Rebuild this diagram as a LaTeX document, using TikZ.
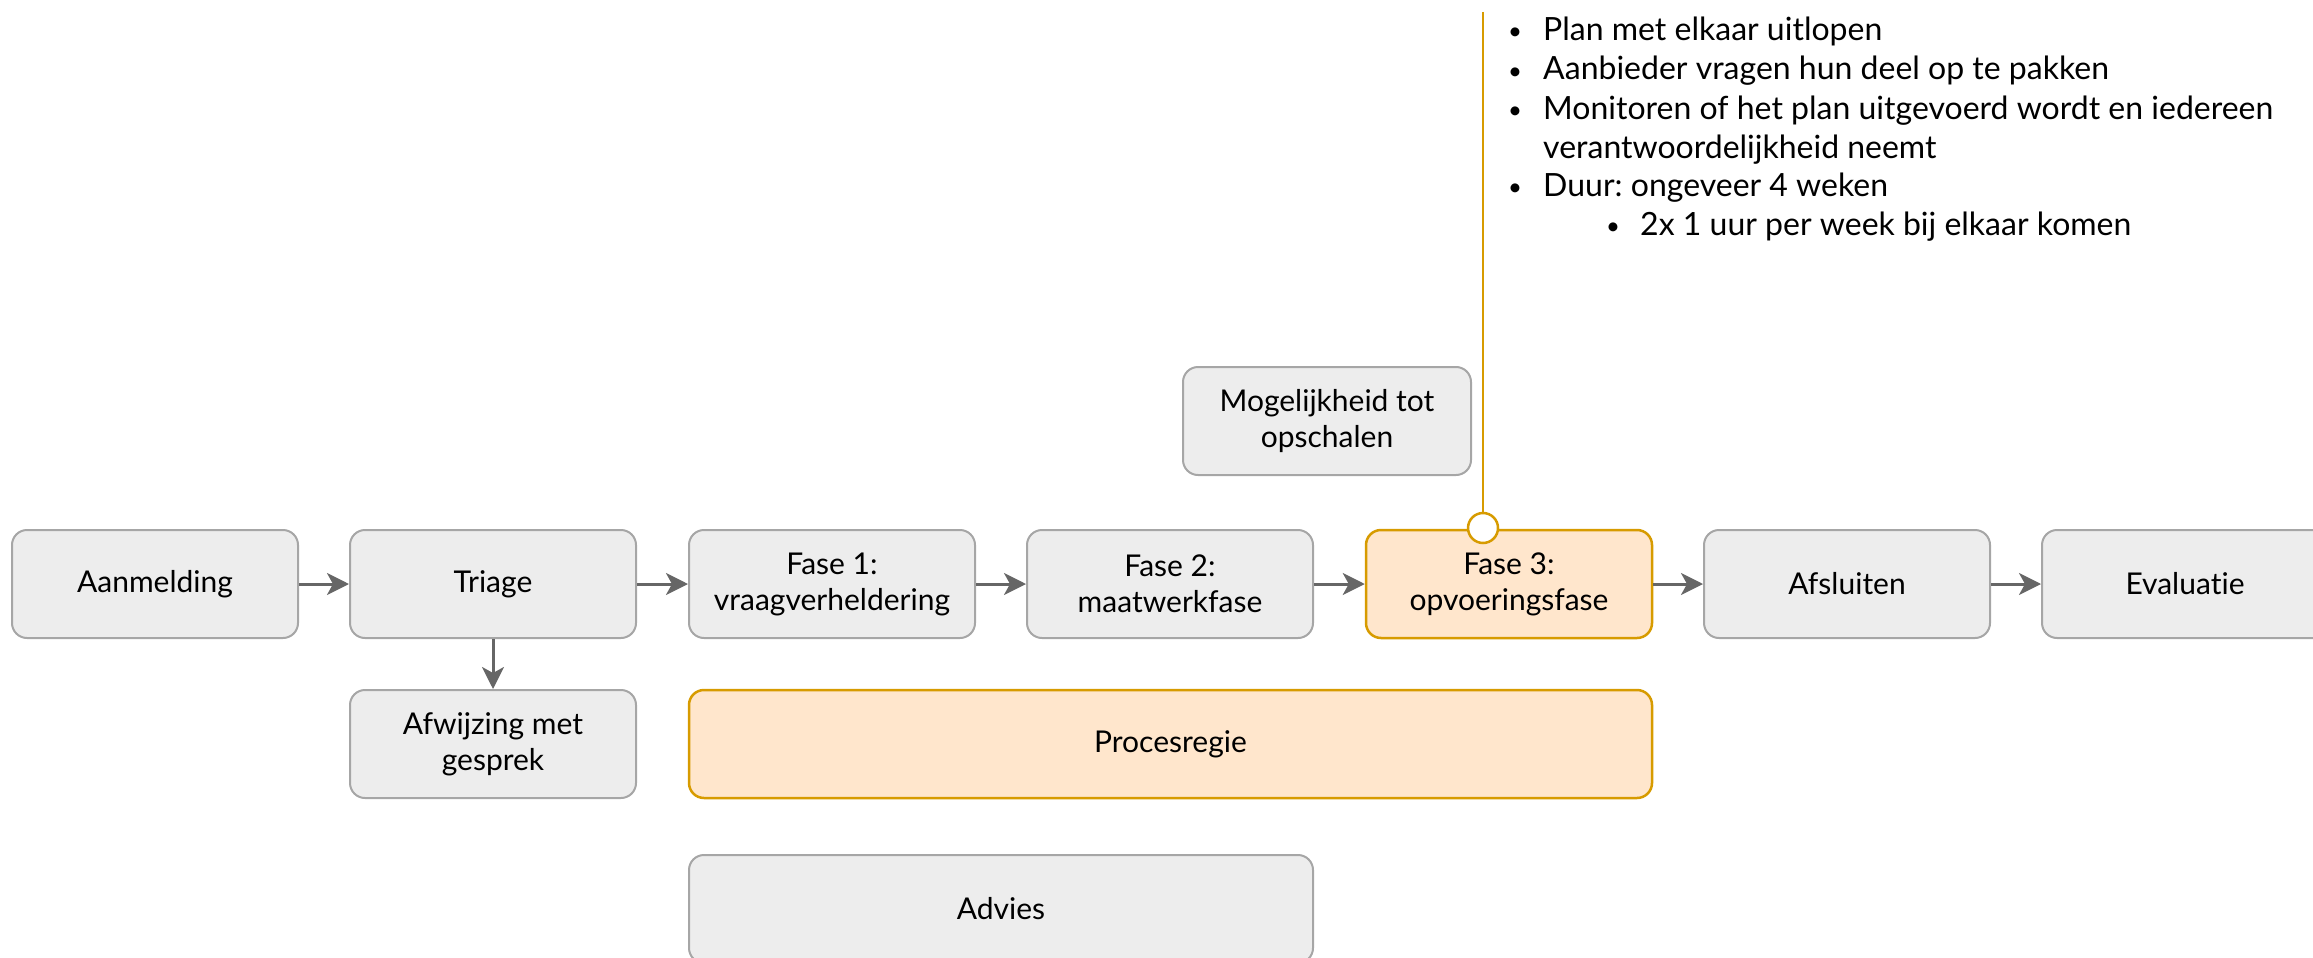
\documentclass[tikz,border=0pt]{standalone}
\usepackage{fontspec}
\setmainfont{Lato}[Ligatures={NoCommon,NoContextual}]
\usetikzlibrary{arrows.meta}
\definecolor{boxfill}{HTML}{EDEDED}
\definecolor{boxline}{HTML}{A6A6A6}
\definecolor{orfill}{HTML}{FFE6CC}
\definecolor{orline}{HTML}{D79B00}
\definecolor{arr}{HTML}{666666}
\newcommand{\mybul}[1]{\makebox[#1][l]{\raisebox{1pt}{\fontsize{24}{24}\selectfont •}}}
\tikzset{
  box/.style={draw=boxline, fill=boxfill, line width=2pt, rounded corners=15pt,
    minimum width=286pt, minimum height=108pt, inner sep=0pt, align=center,
    font=\fontsize{30}{36}\selectfont, text=black},
  obox/.style={box, draw=orline, fill=orfill, line width=2.5pt},
  flow/.style={draw=arr, line width=3pt, -{Stealth[length=22pt,width=22pt,inset=6pt]}},
  bul/.style={anchor=base west, inner sep=0pt, font=\fontsize{32}{38}\selectfont, text=black},
}
\begin{document}
\frenchspacing
\begin{tikzpicture}[x=1pt,y=-1pt]
\useasboundingbox (0,0) rectangle (2313,958);
\node[box] (aan) at (155,584) {\raisebox{-2pt}{Aanmelding}};
\node[box] (tri) at (493,584) {\raisebox{-2pt}{Triage}};
\node[box] (f1) at (832,584) {Fase 1:\\vraagverheldering};
\node[box] (f2) at (1170,584) {Fase 2:\\maatwerkfase};
\node[obox] (f3) at (1509,584) {Fase 3:\\opvoeringsfase};
\node[box] (afs) at (1847,584) {Afsluiten};
\node[box] (eva) at (2185,584) {Evaluatie};
\node[box] (afw) at (493,744) {Afwijzing met\\gesprek};
\node[obox, minimum width=963pt] (proc) at (1170.5,744) {Procesregie};
\node[box, minimum width=624pt] (adv) at (1001,909) {Advies};
\node[box, minimum width=288pt] (mog) at (1327,421) {Mogelijkheid tot\\opschalen};

\draw[flow] (aan) -- (tri);
\draw[flow] (tri) -- (f1);
\draw[flow] (f1) -- (f2);
\draw[flow] (f2) -- (f3);
\draw[flow] (f3) -- (afs);
\draw[flow] (afs) -- (eva);
\draw[flow] (tri) -- (afw);

\coordinate (top) at (1483,12);
\node[circle, draw=orline, fill=white, line width=2.5pt, minimum size=30pt, inner sep=0pt] (pin) at (1483,528) {};
\draw[orline, line width=2.5pt] (top) -- (pin.north);

\node[bul] (l1) at (1508,41) {\mybul{35pt}Plan met elkaar uitlopen};
\node[bul] (l2) at (1508,80) {\mybul{35pt}Aanbieder vragen hun deel op te pakken};
\node[bul] (l3) at (1508,119) {\mybul{35pt}Monitoren of het plan uitgevoerd wordt en iedereen};
\node[bul] (l4) at (1543,158) {verantwoordelijkheid neemt};
\node[bul] (l5) at (1508,196) {\mybul{35pt}Duur: ongeveer 4 weken};
\node[bul] (l6) at (1606,235) {\mybul{34pt}2x 1 uur per week bij elkaar komen};
\end{tikzpicture}
\end{document}
